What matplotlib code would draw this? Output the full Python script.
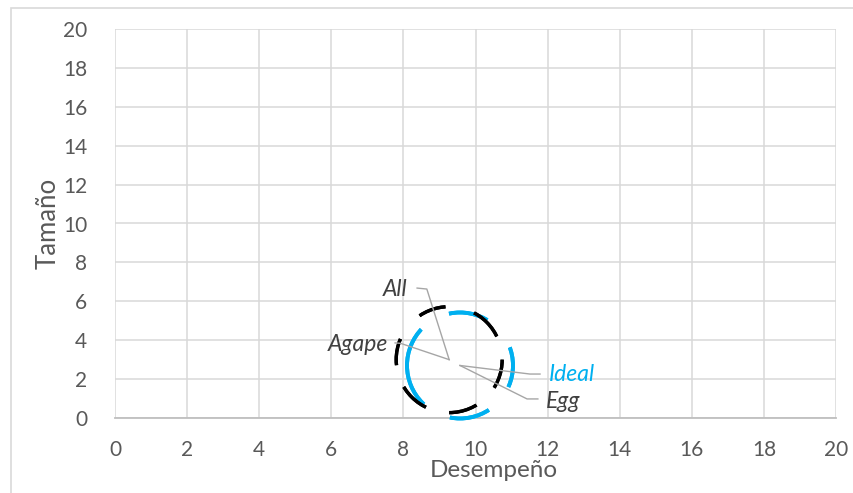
import numpy as np
import matplotlib
matplotlib.use("Agg")
import matplotlib.pyplot as plt
from matplotlib.patches import Rectangle

plt.rcParams["font.family"] = ["Lato", "DejaVu Sans"]
plt.rcParams["lines.scale_dashes"] = False

# Bubble series: performance (x), size (y), relative bubble size
names = ["Egg", "Ideal", "Agape", "All"]
desempeno = [9.57, 9.57, 9.27, 9.27]
tamano = [2.7, 2.7, 3.0, 3.0]
burbuja = [1.0, 1.0, 1.0, 1.0]

x_ticks = [0, 2, 4, 6, 8, 10, 12, 14, 16, 18, 20]
y_ticks = [0, 2, 4, 6, 8, 10, 12, 14, 16, 18, 20]

BLUE = "#00b0f0"
TEXT = "#595959"
LABEL = "#404040"
GRID = "#d9d9d9"
LEADER = "#a6a6a6"

W, H = 854, 493
fig = plt.figure(figsize=(W / 100, H / 100), dpi=100)
fig.patches.append(Rectangle((11 / W, -0.1), 1.2, 1 - 8 / H + 0.1,
                             transform=fig.transFigure, fill=False,
                             edgecolor="#d9d9d9", linewidth=1.2))

ax = fig.add_axes([115 / W, 1 - 418 / H, (836 - 115) / W, (418 - 29) / H])
ax.set_xlim(0, 20)
ax.set_ylim(0, 20)
ax.set_xticks(x_ticks)
ax.set_yticks(y_ticks)
ax.grid(True, color=GRID, linewidth=1.1)
ax.set_axisbelow(True)
for side in ["top", "right", "left"]:
    ax.spines[side].set_visible(False)
ax.spines["bottom"].set_color("#bfbfbf")
ax.spines["bottom"].set_linewidth(1.3)
ax.tick_params(length=0, labelsize=15, labelcolor=TEXT)
ax.tick_params(axis="x", pad=16)
ax.tick_params(axis="y", pad=20)
ax.set_xlabel("Desempeño", fontsize=17.5, color=TEXT, labelpad=0, x=0.525)
ax.set_ylabel("Tamaño", fontsize=18.5, color=TEXT, labelpad=2)

# bubble diameter in points
diam_pt = 76.3
r_pt = diam_pt / 2


def arc(deg):
    return np.deg2rad(deg) * r_pt


black_ls = (0, tuple(arc(d) for d in (31, 27, 32, 26, 36, 32, 30, 33, 29, 25, 33, 26)))
blue_ls = (arc(11), tuple(arc(d) for d in (44, 33, 44, 39, 43, 35, 90, 32)))
styles = {
    "All": dict(color="black", lw=2.4, ls=black_ls),
    "Agape": dict(color="black", lw=2.4, ls=black_ls),
    "Ideal": dict(color=BLUE, lw=2.8, ls=blue_ls),
    "Egg": dict(color=BLUE, lw=2.8, ls=blue_ls),
}

for n, xv, yv, b in zip(names, desempeno, tamano, burbuja):
    st = styles[n]
    ax.scatter([xv], [yv], s=b * diam_pt ** 2, facecolors="none",
               edgecolors=st["color"], linewidths=st["lw"],
               linestyles=[st["ls"]], zorder=3, clip_on=False)

# Data labels with leader lines (label anchor, elbow, text alignment)
label_layout = {
    "All": dict(text=(8.12, 6.62), start=(8.38, 6.68), elbow=(8.65, 6.63), ha="right", color=LABEL),
    "Agape": dict(text=(7.57, 3.78), start=(7.77, 3.86), elbow=(7.92, 3.84), ha="right", color=LABEL),
    "Ideal": dict(text=(12.04, 2.26), start=(11.79, 2.26), elbow=(11.51, 2.26), ha="left", color=BLUE),
    "Egg": dict(text=(11.96, 0.86), start=(11.73, 0.98), elbow=(11.43, 0.98), ha="left", color=LABEL),
}
for n, xv, yv in zip(names, desempeno, tamano):
    lay = label_layout[n]
    ax.plot([lay["start"][0], lay["elbow"][0], xv],
            [lay["start"][1], lay["elbow"][1], yv],
            color=LEADER, linewidth=1.0, zorder=4, clip_on=False)
    ax.text(lay["text"][0], lay["text"][1], n, ha=lay["ha"], va="center",
            fontsize=16.5, fontstyle="italic", color=lay["color"], zorder=5)

fig.savefig("out.png", dpi=100)
